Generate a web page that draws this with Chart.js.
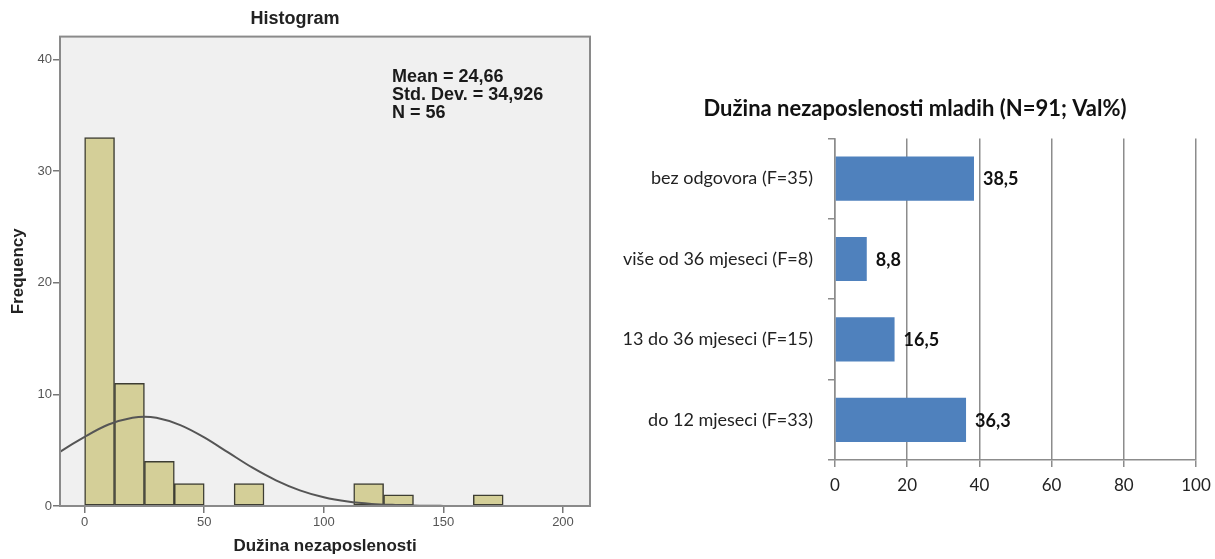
<!DOCTYPE html>
<html>
<head>
<meta charset="utf-8">
<script src="https://cdn.jsdelivr.net/npm/chart.js@4.4.1/dist/chart.umd.min.js"></script>
<style>
  html, body { margin: 0; padding: 0; background: #fff; }
  #wrap { position: relative; width: 1215px; height: 559px; }
  #histWrap { position: absolute; left: 0; top: 0; width: 600px; height: 559px; }
  #barWrap { position: absolute; left: 600px; top: 0; width: 615px; height: 559px; }
</style>
</head>
<body>
<div id="wrap">
  <div id="histWrap"><canvas id="hist"></canvas></div>
  <div id="barWrap"><canvas id="bars"></canvas></div>
</div>
<script>
// -----------------------------
// data: histogram (left)
// -----------------------------
const binCenters = [6.25, 18.75, 31.25, 43.75, 68.75, 118.75, 131.25, 168.75];
const binCounts = [33, 11, 4, 2, 2, 2, 1, 1];
// normal curve
const curveX = [-11, -10, 0, 10, 20, 25, 30, 40, 50, 60, 70, 80, 90, 100, 110, 120, 130, 140, 150, 170, 190, 212];
const curveY = [4.75, 4.9, 6.2, 7.3, 7.9, 8.0, 7.9, 7.25, 6.15, 4.8, 3.45, 2.3, 1.4, 0.78, 0.4, 0.19, 0.09, 0.03, 0.01, 0, 0, 0];
const histXTicks = [0, 50, 100, 150, 200];
const histYTicks = [0, 10, 20, 30, 40];
const statLines = ["Mean = 24,66", "Std. Dev. = 34,926", "N = 56"];

// -----------------------------
// data: horizontal bars (right)
// -----------------------------
const categories = ["bez odgovora (F=35)", "više od 36 mjeseci (F=8)", "13 do 36 mjeseci (F=15)", "do 12 mjeseci (F=33)"];
const percents = [38.5, 8.8, 16.5, 36.3];
const barXTicks = [0, 20, 40, 60, 80, 100];

const ARIAL = "'Liberation Sans', Arial, sans-serif";
const CALI = "Lato, 'Open Sans', sans-serif";

// grey panel + frame like SPSS
const framePlugin = {
  id: "frame",
  beforeDatasetsDraw(chart) {
    const a = chart.chartArea;
    const ctx = chart.ctx;
    ctx.save();
    ctx.fillStyle = "#f0f0f0";
    ctx.fillRect(a.left, a.top, a.right - a.left, a.bottom - a.top);
    ctx.restore();
  },
  afterDatasetsDraw(chart) {
    const a = chart.chartArea;
    const ctx = chart.ctx;
    ctx.save();
    ctx.strokeStyle = "#8a8a8a";
    ctx.lineWidth = 2;
    ctx.strokeRect(a.left, a.top, a.right - a.left, a.bottom - a.top);
    // stats text
    const xs = chart.scales.x, ys = chart.scales.y;
    ctx.fillStyle = "#1a1a1a";
    ctx.font = "bold 18px " + ARIAL;
    ctx.textBaseline = "middle";
    ctx.textAlign = "left";
    const x0 = xs.getPixelForValue(128.5);
    let y0 = ys.getPixelForValue(38.4);
    statLines.forEach((t, i) => ctx.fillText(t, x0, y0 + i * 17.7));
    ctx.restore();
  }
};

new Chart(document.getElementById("hist"), {
  data: {
    datasets: [
      {
        type: "line",
        data: curveX.map((x, i) => ({ x: x, y: curveY[i] })),
        borderColor: "#555555",
        borderWidth: 2,
        pointRadius: 0,
        tension: 0.4,
        cubicInterpolationMode: "monotone",
        order: 0
      },
      {
        type: "bar",
        data: binCenters.map((x, i) => ({ x: x, y: binCounts[i] })),
        backgroundColor: "#d4cf98",
        borderColor: "#3d3d33",
        borderWidth: 1.5,
        borderSkipped: false,
        barPercentage: 1,
        categoryPercentage: 1,
        order: 1
      }
    ]
  },
  options: {
    responsive: true,
    maintainAspectRatio: false,
    animation: false,
    layout: { padding: { left: 0, right: 10, top: 0, bottom: 0 } },
    plugins: {
      legend: { display: false },
      tooltip: { enabled: false },
      title: {
        display: true,
        text: "Histogram",
        color: "#222",
        font: { family: ARIAL, size: 18, weight: "bold" },
        padding: { top: 8, bottom: 7 }
      }
    },
    scales: {
      x: {
        type: "linear",
        offset: false,
        min: -10.3,
        max: 211.3,
        afterBuildTicks: s => { s.ticks = histXTicks.map(v => ({ value: v })); },
        afterFit: s => { s.height = 53; s.paddingLeft = 0; s.paddingRight = 0; },
        border: { display: false },
        grid: { offset: false, drawOnChartArea: false, drawTicks: true, tickLength: 7, color: "#777", lineWidth: 1.5 },
        ticks: { color: "#555", font: { family: ARIAL, size: 13 }, padding: 2, maxRotation: 0 },
        title: {
          display: true,
          text: "Dužina nezaposlenosti",
          color: "#222",
          font: { family: ARIAL, size: 17, weight: "bold" },
          padding: { top: 0, bottom: 2 }
        }
      },
      y: {
        min: 0,
        max: 42.05,
        afterBuildTicks: s => { s.ticks = histYTicks.map(v => ({ value: v })); },
        afterFit: s => { s.width = 60; },
        border: { display: false },
        grid: { drawOnChartArea: false, drawTicks: true, tickLength: 7, color: "#777", lineWidth: 1.5 },
        ticks: { color: "#555", font: { family: ARIAL, size: 13 }, padding: 1 },
        title: {
          display: true,
          text: "Frequency",
          color: "#222",
          font: { family: ARIAL, size: 17, weight: "bold" },
          padding: { top: 8, bottom: 0 }
        }
      }
    }
  },
  plugins: [framePlugin]
});

// value labels at the end of the bars
const valueLabels = {
  id: "valueLabels",
  afterDatasetsDraw(chart) {
    const ctx = chart.ctx;
    const meta = chart.getDatasetMeta(0);
    ctx.save();
    ctx.fillStyle = "#111";
    ctx.font = "bold 18px " + CALI;
    ctx.textAlign = "left";
    ctx.textBaseline = "middle";
    meta.data.forEach((bar, i) => {
      ctx.fillText(percents[i].toFixed(1).replace(".", ","), bar.x + 9, bar.y + 1);
    });
    ctx.restore();
  }
};

new Chart(document.getElementById("bars"), {
  type: "bar",
  data: {
    labels: categories,
    datasets: [{
      data: percents,
      backgroundColor: "#4f81bd",
      borderWidth: 0,
      barPercentage: 0.55,
      categoryPercentage: 1
    }]
  },
  options: {
    indexAxis: "y",
    responsive: true,
    maintainAspectRatio: false,
    animation: false,
    layout: { padding: { left: 15, right: 0, top: 0, bottom: 0 } },
    plugins: {
      legend: { display: false },
      tooltip: { enabled: false },
      title: {
        display: true,
        text: "Dužina nezaposlenosti mladih (N=91; Val%)",
        color: "#111",
        font: { family: CALI, size: 22, weight: "bold" },
        padding: { top: 96, bottom: 16 }
      }
    },
    scales: {
      x: {
        min: 0,
        max: 100,
        afterBuildTicks: s => { s.ticks = barXTicks.map(v => ({ value: v })); },
        afterFit: s => { s.height = 99; s.paddingRight = 19; },
        border: { display: true, color: "#8c8c8c", width: 1.5 },
        grid: { color: "#8c8c8c", lineWidth: 1.5, tickLength: 7 },
        ticks: { color: "#222", font: { family: CALI, size: 17 }, padding: 8, maxRotation: 0 }
      },
      y: {
        afterFit: s => { s.width = 220; },
        border: { display: true, color: "#8c8c8c", width: 1.5 },
        grid: { drawOnChartArea: false, color: "#8c8c8c", lineWidth: 1.5, tickLength: 7 },
        ticks: { color: "#222", font: { family: CALI, size: 18 }, padding: 15 }
      }
    }
  },
  plugins: [valueLabels]
});
</script>
</body>
</html>
